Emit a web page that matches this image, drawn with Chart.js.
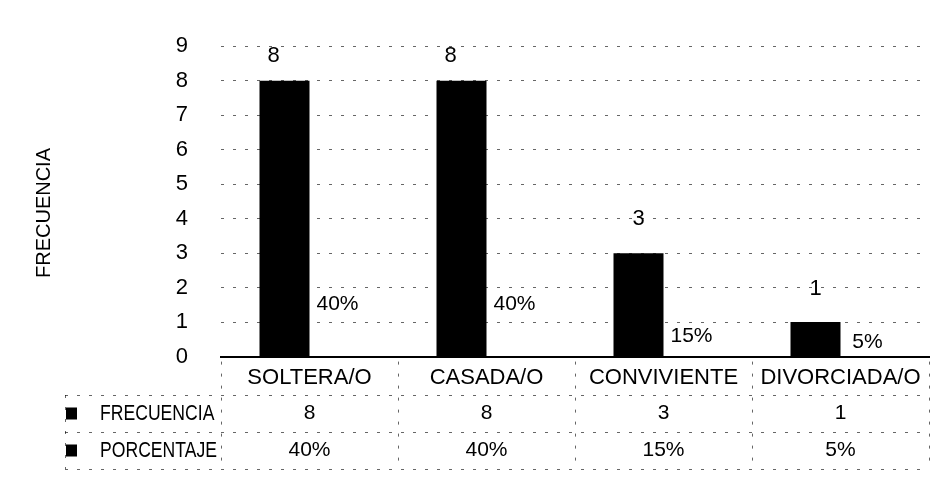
<!DOCTYPE html>
<html>
<head>
<meta charset="utf-8">
<script src="https://cdn.jsdelivr.net/npm/chart.js@4.4.1/dist/chart.umd.min.js"></script>
<style>
  html, body { margin: 0; padding: 0; background: #fff; }
  #wrap { width: 935px; height: 479px; position: relative; }
</style>
</head>
<body>
<div id="wrap"><canvas id="c" width="935" height="479"></canvas></div>
<script>
// Estado civil: frecuencia y porcentaje
const categories  = ['SOLTERA/O', 'CASADA/O', 'CONVIVIENTE', 'DIVORCIADA/O'];
const frecuencia  = [8, 8, 3, 1];
const porcentaje  = [0.40, 0.40, 0.15, 0.05];
const seriesNames = ['FRECUENCIA', 'PORCENTAJE'];
const yTitle = 'FRECUENCIA';
const yMin = 0, yMax = 9, yStep = 1;

const FONT = '"Liberation Sans", Arial, sans-serif';
const pct = v => Math.round(v * 100) + '%';

// value labels above the bars (offsets in px from each bar's top)
const barLabels = {
  id: 'barLabels',
  afterDatasetsDraw(chart, args, opts) {
    const ctx = chart.ctx;
    ctx.save();
    ctx.fillStyle = '#000';
    ctx.textAlign = 'center';
    ctx.textBaseline = 'middle';
    ctx.font = '22px ' + FONT;
    chart.getDatasetMeta(0).data.forEach((bar, i) => {
      const [dx, dy] = opts.freqOffset[i];
      ctx.fillText(String(frecuencia[i]), bar.x + dx, bar.y + dy);
    });
    ctx.font = '21px ' + FONT;
    chart.getDatasetMeta(1).data.forEach((bar, i) => {
      const [dx, dy] = opts.pctOffset[i];
      ctx.fillText(pct(porcentaje[i]), bar.x + dx, bar.y + dy);
    });
    ctx.restore();
  }
};

// vertical axis title, drawn a little below the plot's middle
const axisTitle = {
  id: 'axisTitle',
  afterDraw(chart, args, opts) {
    const ctx = chart.ctx;
    ctx.save();
    ctx.translate(opts.x, opts.y);
    ctx.rotate(-Math.PI / 2);
    ctx.fillStyle = '#000';
    ctx.font = '20px ' + FONT;
    ctx.textAlign = 'center';
    ctx.textBaseline = 'middle';
    ctx.fillText(yTitle, 0, 0);
    ctx.restore();
  }
};

// data table under the category axis
const dataTable = {
  id: 'dataTable',
  afterDraw(chart, args, opts) {
    const { ctx, chartArea } = chart;
    const n = categories.length;
    const colW = (chartArea.right - chartArea.left) / n;
    const rows = [
      { name: seriesNames[0], vals: frecuencia.map(v => String(v)) },
      { name: seriesNames[1], vals: porcentaje.map(pct) }
    ];
    const top = opts.top, rowH = opts.rowHeight, left = opts.left;
    const bottom = top + rows.length * rowH;
    const line = (x1, y1, x2, y2) => { ctx.beginPath(); ctx.moveTo(x1, y1); ctx.lineTo(x2, y2); ctx.stroke(); };

    ctx.save();
    ctx.strokeStyle = 'rgba(0,0,0,0.6)';
    ctx.lineWidth = 1;
    ctx.setLineDash([3, 9]);
    for (let r = 0; r <= rows.length; r++) {
      const y = Math.round(top + r * rowH) + 0.5;
      line(left, y, chartArea.right, y);
    }
    line(left + 0.5, top, left + 0.5, bottom);
    for (let i = 0; i <= n; i++) {
      const x = Math.round(chartArea.left + i * colW) + 0.5;
      line(x, chartArea.bottom + 5, x, bottom);
    }
    ctx.setLineDash([]);

    rows.forEach((row, r) => {
      const cy = top + r * rowH + rowH / 2;
      // legend key
      ctx.fillStyle = '#000';
      ctx.fillRect(left + 1, cy - 6, 11, 12);
      // series name, condensed
      ctx.save();
      ctx.translate(left + 35, cy);
      ctx.scale(0.8, 1);
      ctx.font = '22px ' + FONT;
      ctx.textAlign = 'left';
      ctx.textBaseline = 'middle';
      ctx.fillText(row.name, 0, 0);
      ctx.restore();
      // values
      ctx.font = '21px ' + FONT;
      ctx.textAlign = 'center';
      ctx.textBaseline = 'middle';
      row.vals.forEach((v, i) => {
        ctx.fillText(v, chartArea.left + (i + 0.5) * colW, cy);
      });
    });
    ctx.restore();
  }
};

new Chart(document.getElementById('c'), {
  type: 'bar',
  data: {
    labels: categories,
    datasets: [
      { label: seriesNames[0], data: frecuencia, backgroundColor: '#000', borderWidth: 0 },
      { label: seriesNames[1], data: porcentaje, backgroundColor: 'rgba(0,0,0,0)', borderWidth: 0 }
    ]
  },
  options: {
    responsive: false,
    animation: false,
    categoryPercentage: 0.565,
    barPercentage: 1.0,
    layout: { padding: { top: 45, right: 6, bottom: 80, left: 0 } },
    plugins: {
      legend: { display: false },
      tooltip: { enabled: false },
      barLabels: {
        freqOffset: [[-11, -25], [-11, -25], [0, -34], [0, -33]],
        pctOffset: [[3, -39], [3, -39], [3, -15], [2, -13]]
      },
      axisTitle: { x: 44, y: 213 },
      dataTable: { top: 395, rowHeight: 37, left: 65 }
    },
    scales: {
      x: {
        grid: { display: false, drawTicks: false },
        border: { display: true, color: '#000', width: 2 },
        ticks: {
          color: '#000',
          font: { family: FONT, size: 22 },
          padding: 8,
          maxRotation: 0,
          autoSkip: false
        }
      },
      y: {
        min: yMin,
        max: yMax,
        afterFit: s => { s.width = 221; },
        grid: {
          drawTicks: false,
          color: c => c.tick && c.tick.value === 0 ? 'rgba(0,0,0,0)' : 'rgba(0,0,0,0.6)',
          lineWidth: 1
        },
        border: { display: false, dash: [3, 9] },
        ticks: {
          stepSize: yStep,
          color: '#000',
          font: { family: FONT, size: 22 },
          padding: 33
        }
      }
    }
  },
  plugins: [barLabels, axisTitle, dataTable]
});
</script>
</body>
</html>
